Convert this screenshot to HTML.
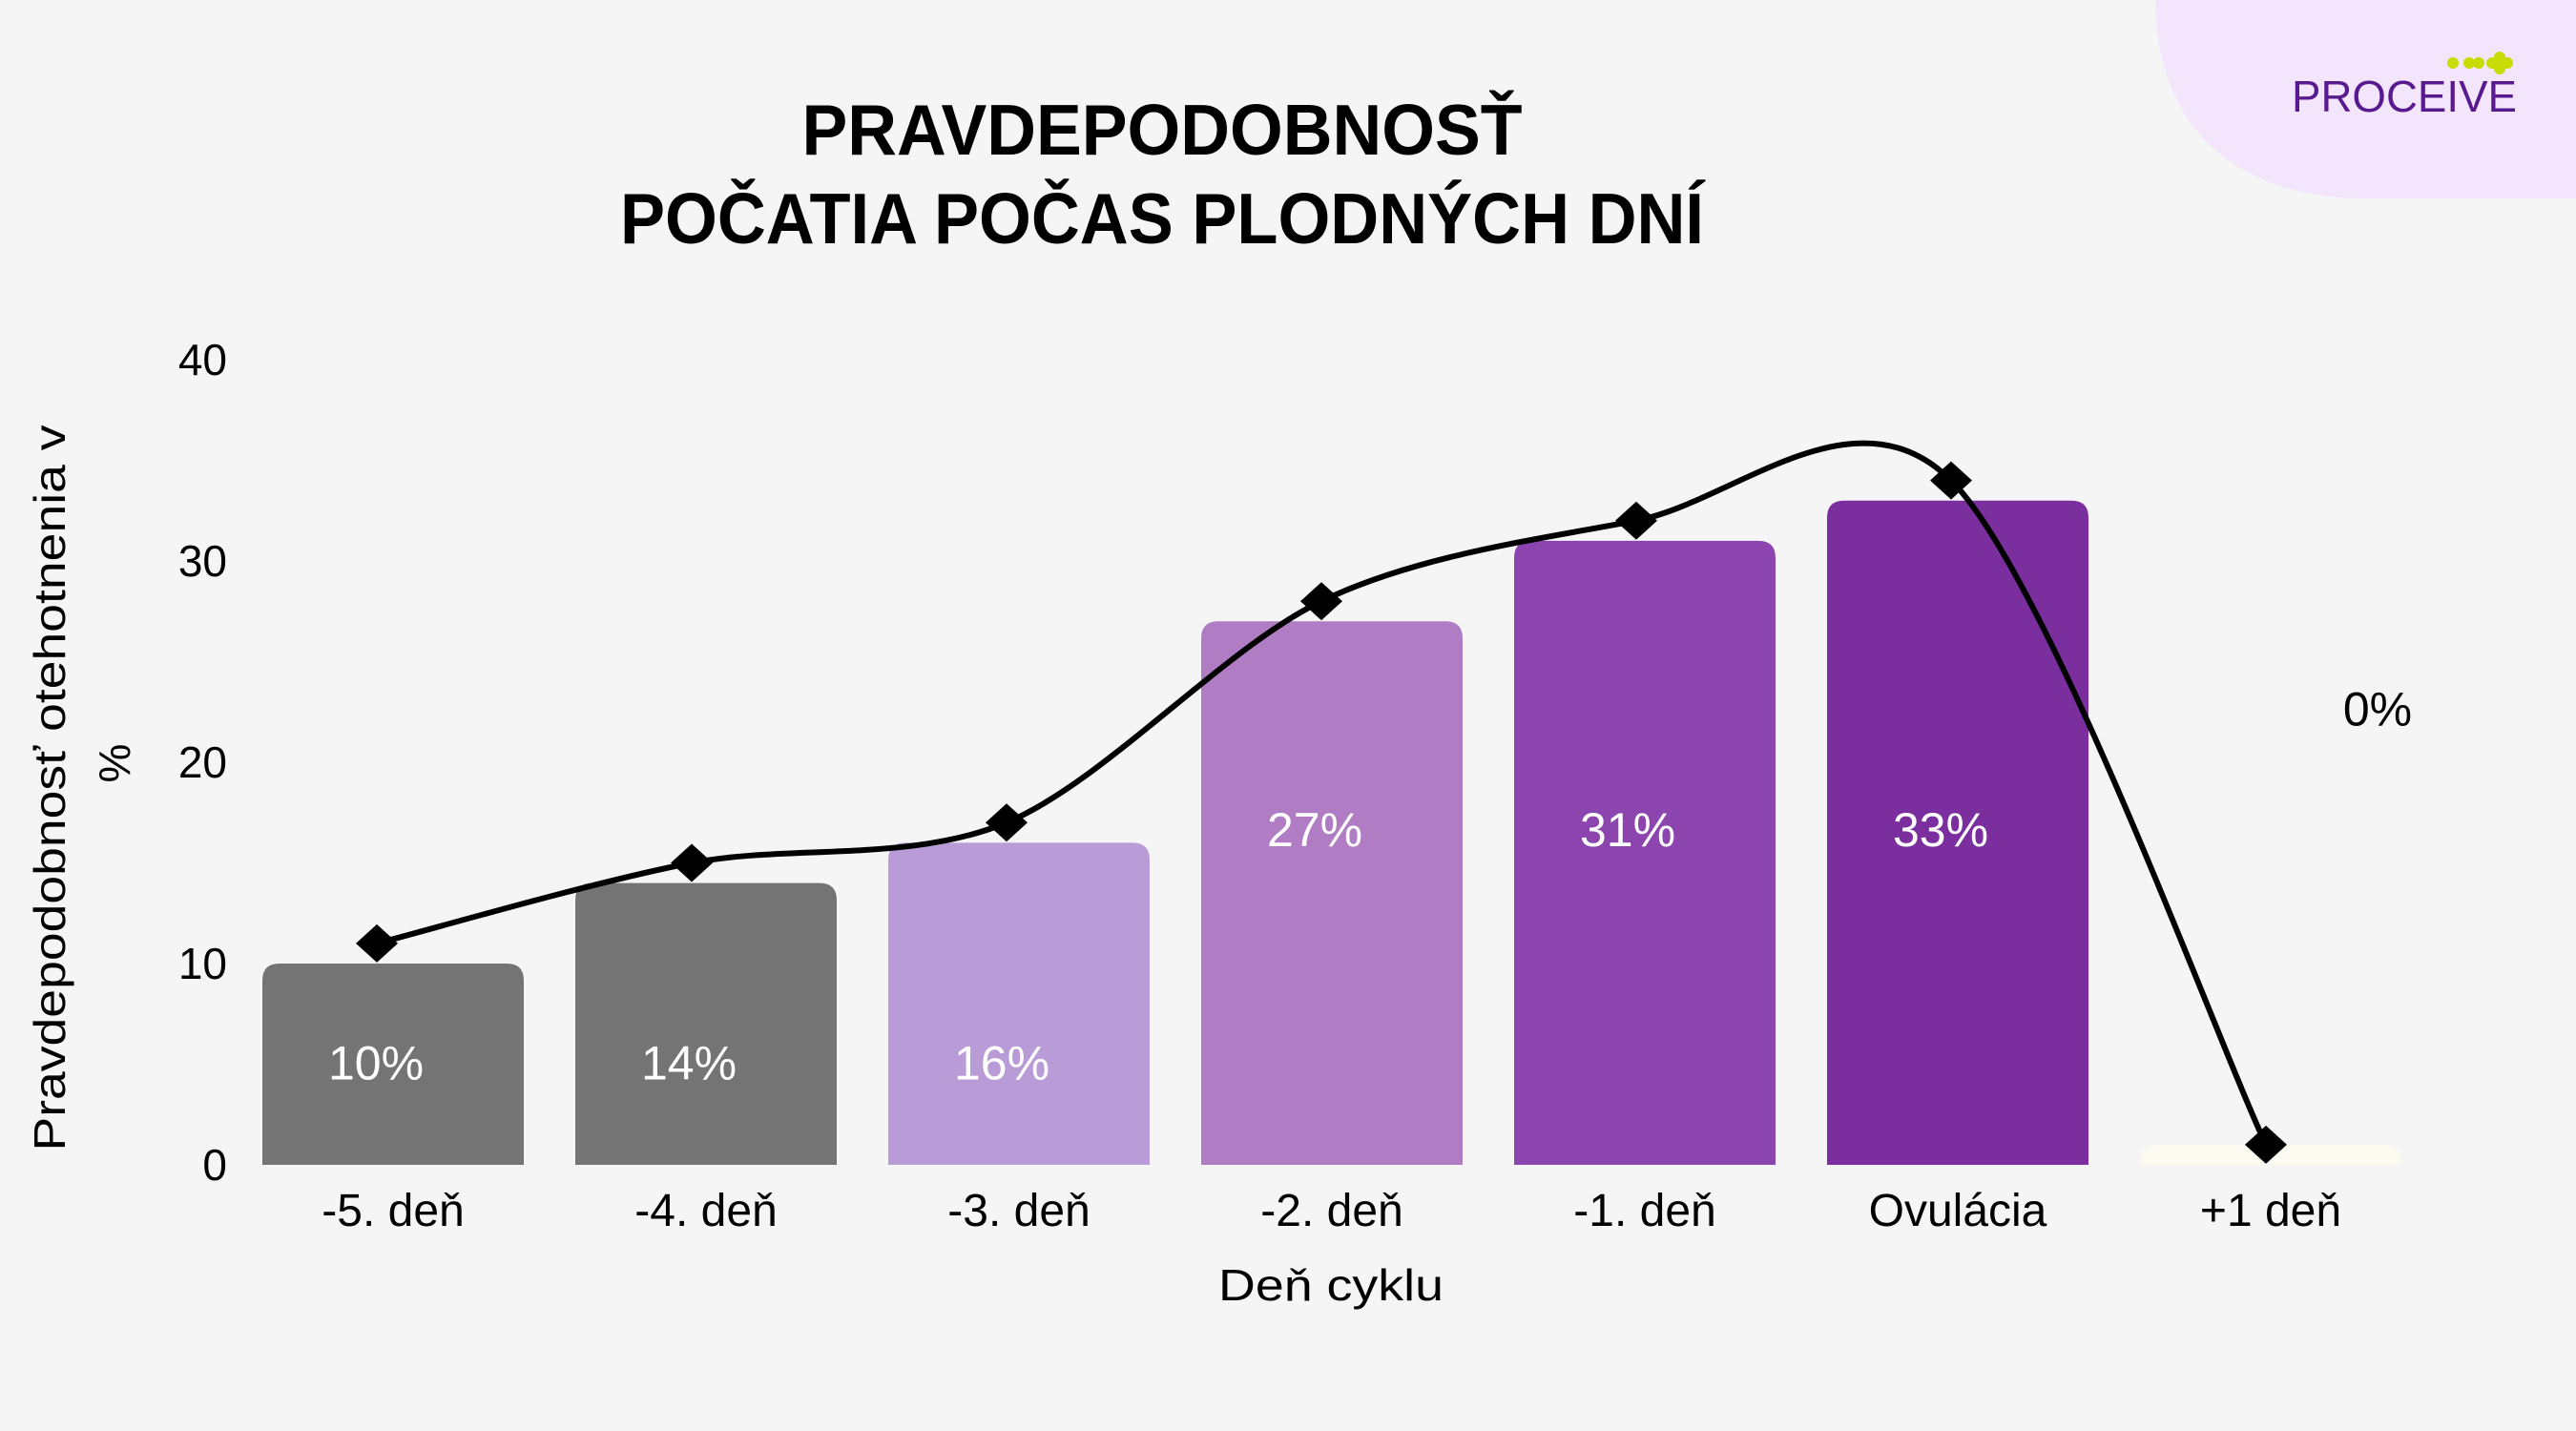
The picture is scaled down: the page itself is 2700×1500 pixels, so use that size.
<!DOCTYPE html>
<html><head><meta charset="utf-8"><style>
html,body{margin:0;padding:0;background:#f5f5f5;}
svg{display:block;font-family:"Liberation Sans",sans-serif;}
</style></head><body>
<svg id="c" width="2700" height="1500" viewBox="0 0 2700 1500">
<rect width="2700" height="1500" fill="#f5f5f5"/>
<path d="M2259 0 H2700 V208 H2480 C2330 208 2259 120 2259 0 Z" fill="#f3e6fc"/>
<g>
<circle cx="2571" cy="66" r="6" fill="#c8dc00"/><circle cx="2588" cy="66" r="6" fill="#c8dc00"/><circle cx="2598" cy="66" r="6" fill="#c8dc00"/>
<circle cx="2620" cy="60" r="6" fill="#c8dc00"/><circle cx="2620" cy="72" r="6" fill="#c8dc00"/><circle cx="2612" cy="66" r="6" fill="#c8dc00"/><circle cx="2628" cy="66" r="6" fill="#c8dc00"/>
<text x="2402" y="117" font-size="46" fill="#5a1a8f" textLength="236" lengthAdjust="spacingAndGlyphs">PROCEIVE</text>
</g>
<g font-weight="bold" font-family="'Liberation Sans Narrow','Liberation Sans',sans-serif">
<text x="1218" y="162" font-size="75" text-anchor="middle" textLength="755" lengthAdjust="spacingAndGlyphs">PRAVDEPODOBNOSŤ</text>
<text x="1218" y="255" font-size="75" text-anchor="middle" textLength="1136" lengthAdjust="spacingAndGlyphs">POČATIA POČAS PLODNÝCH DNÍ</text>
</g>
<g id="yt"></g>
<g id="bars"></g>
<g id="xl"></g>
<g id="ln"></g>
<text x="1395" y="1363" font-size="46" text-anchor="middle" textLength="236" lengthAdjust="spacingAndGlyphs">Deň cyklu</text>
<g font-size="46" text-anchor="middle">
<text transform="translate(68,826) rotate(-90)" textLength="761" lengthAdjust="spacingAndGlyphs">Pravdepodobnosť otehotnenia v</text>
<text transform="translate(136,800) rotate(-90)">%</text>
</g>
</svg>
<script>
const categories=["-5. deň","-4. deň","-3. deň","-2. deň","-1. deň","Ovulácia","+1 deň"];
const barValues=[10,14,16,27,31,33,1];
const barLabels=["10%","14%","16%","27%","31%","33%","0%"];
const lineValues=[11,15,17,28,32,34,1];
const yTicks=[0,10,20,30,40];
const colors=["#747474","#747474","#b99bd8","#b07cc4","#8c45ae","#7b2e9e","#fbfaf0"];
const NS="http://www.w3.org/2000/svg";
const y=v=>1221-v*21.1;
const xc=i=>412+i*328;
const xm=i=>395+i*330;
const bw=274;
function mk(t,a,p){const e=document.createElementNS(NS,t);for(const k in a)e.setAttribute(k,a[k]);p.appendChild(e);return e;}
yTicks.forEach(v=>{const t=mk('text',{x:238,y:y(v)+16,'font-size':46,'text-anchor':'end'},document.getElementById('yt'));t.textContent=v;

});
const bg=document.getElementById('bars');
barValues.forEach((v,i)=>{const x0=xc(i)-bw/2,yt=y(v),h=1221-yt,r=Math.min(18,h);
const p=mk('path',{d:`M${x0} 1221 V${yt+r} Q${x0} ${yt} ${x0+r} ${yt} H${x0+bw-r} Q${x0+bw} ${yt} ${x0+bw} ${yt+r} V1221 Z`,fill:colors[i]},bg);


const t=mk('text',{x:xc(i)-18,y:0,'font-size':50,'text-anchor':'middle',fill:i==6?'#000':'#fff'},bg);
if(i==6){t.setAttribute('x',xc(i)+112);t.setAttribute('y',y(22.5)+14);}
else if(v<20){t.setAttribute('y',y(5)+16);}
else{t.setAttribute('y',y(16.5)+14);}
t.textContent=barLabels[i];

});
const xg=document.getElementById('xl');
categories.forEach((c,i)=>{const t=mk('text',{x:xc(i),y:1285,'font-size':48,'text-anchor':'middle'},xg);t.textContent=c;

});
const pts=lineValues.map((v,i)=>[xm(i),y(v)]);
let d=`M${pts[0][0]} ${pts[0][1]}`;
for(let i=0;i<pts.length-1;i++){const p0=pts[Math.max(0,i-1)],p1=pts[i],p2=pts[i+1],p3=pts[Math.min(pts.length-1,i+2)];
const k=1/6.5;d+=` C${p1[0]+(p2[0]-p0[0])*k} ${p1[1]+(p2[1]-p0[1])*k} ${p2[0]-(p3[0]-p1[0])*k} ${p2[1]-(p3[1]-p1[1])*k} ${p2[0]} ${p2[1]}`;}
const lg=document.getElementById('ln');
const pa=mk('path',{d:d,fill:'none',stroke:'#000','stroke-width':6},lg);


pts.forEach(p=>{const m=mk('path',{d:`M${p[0]} ${p[1]-20} L${p[0]+22} ${p[1]} L${p[0]} ${p[1]+20} L${p[0]-22} ${p[1]} Z`,fill:'#000'},lg);

});
</script>
</body></html>
